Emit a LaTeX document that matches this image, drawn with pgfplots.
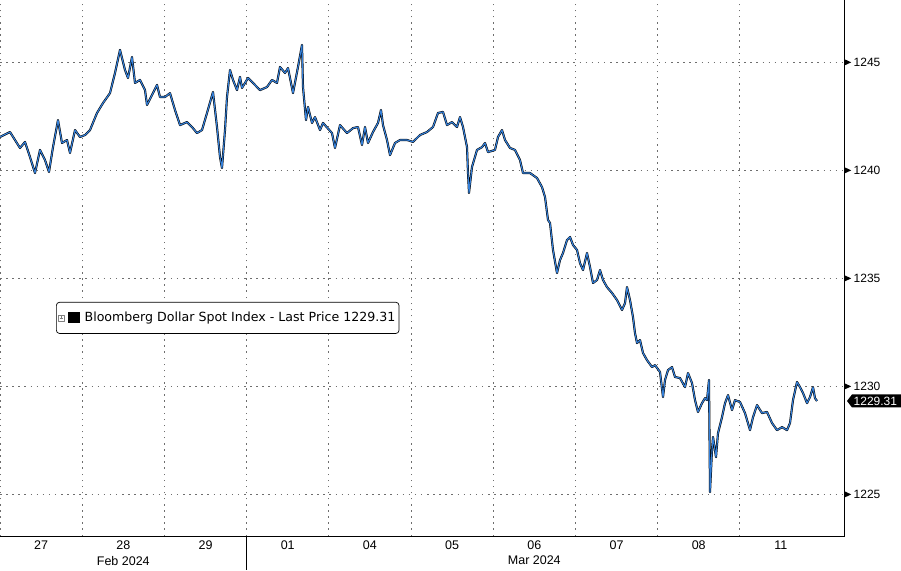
\documentclass[border=0pt]{standalone}
\usepackage{pgfplots}
\usepackage{pgfplotstable}
\pgfplotsset{compat=1.18}
\usepackage{fontspec}
\setmainfont{Liberation Sans}
\newfontfamily\legfont{DejaVu Sans}
\definecolor{bbblue}{RGB}{52,128,218}
\definecolor{gridgray}{RGB}{110,110,110}
\pgfplotstableread{
x y
0 1241.53
10 1241.76
15 1241.39
20 1241.02
25 1241.30
30 1240.60
35 1239.86
40 1240.93
45 1240.46
49 1239.91
53 1241.06
58 1242.31
62 1241.25
67 1241.39
70 1240.79
75 1241.85
80 1241.53
85 1241.62
90 1241.85
97 1242.64
103 1243.10
110 1243.56
115 1244.49
120 1245.56
125 1244.63
128 1244.26
132 1245.23
135 1244.03
140 1244.17
145 1243.70
147 1243.01
152 1243.47
157 1243.94
160 1243.38
165 1243.38
170 1243.56
175 1242.78
180 1242.08
187 1242.22
192 1241.99
197 1241.71
202 1241.85
207 1242.64
213 1243.61
217 1241.99
220 1240.60
222 1240.09
225 1241.85
227 1243.38
230 1244.63
233 1244.17
237 1243.70
240 1244.31
242 1243.80
248 1244.26
253 1244.03
260 1243.70
267 1243.84
272 1244.17
277 1244.03
280 1244.77
285 1244.49
288 1244.72
293 1243.56
298 1244.77
302 1245.79
303 1243.84
306 1242.31
308 1242.92
312 1242.18
315 1242.45
320 1241.85
323 1242.18
332 1241.71
335 1241.02
340 1242.08
347 1241.71
353 1241.94
358 1241.99
362 1241.16
365 1241.99
368 1241.25
373 1241.76
378 1242.18
381 1242.78
383 1242.08
387 1241.39
390 1240.69
395 1241.25
400 1241.39
407 1241.39
413 1241.30
420 1241.62
427 1241.76
433 1241.99
438 1242.64
443 1242.69
447 1242.08
452 1242.22
457 1241.99
460 1242.45
463 1241.99
465 1241.53
467 1241.06
468 1239.86
469 1238.94
472 1240.14
477 1240.93
482 1241.06
485 1241.25
488 1240.83
495 1240.93
498 1241.53
502 1241.85
505 1241.39
510 1241.02
515 1240.93
520 1240.46
523 1239.86
530 1239.86
537 1239.63
542 1239.21
545 1238.75
548 1237.69
550 1237.55
553 1236.30
557 1235.23
560 1235.83
563 1236.16
567 1236.76
570 1236.90
573 1236.53
577 1236.30
580 1235.69
583 1235.37
587 1236.16
590 1235.51
593 1234.77
597 1234.91
600 1235.37
603 1234.91
607 1234.58
612 1234.31
617 1233.98
622 1233.52
625 1233.84
627 1234.58
630 1233.98
633 1233.19
635 1232.45
637 1231.99
640 1232.13
643 1231.53
647 1231.20
652 1230.88
655 1230.97
660 1230.65
663 1229.49
665 1230.28
668 1230.74
672 1230.88
675 1230.42
680 1230.37
685 1229.95
688 1230.60
692 1230.14
695 1229.35
698 1228.80
702 1229.21
705 1229.44
707 1229.35
709 1230.28
710 1225.09
712 1227.04
713 1227.64
716 1226.71
718 1227.82
722 1228.56
725 1229.21
728 1229.58
732 1228.89
735 1229.35
740 1229.26
745 1228.75
750 1227.96
753 1228.56
757 1229.12
762 1228.75
767 1228.80
772 1228.29
777 1227.96
782 1228.10
787 1227.96
790 1228.29
793 1229.35
797 1230.19
800 1229.95
803 1229.68
807 1229.21
810 1229.49
813 1229.95
815 1229.44
817 1229.31
}\dxy
\begin{document}
\begin{tikzpicture}[x=1pt,y=1pt]
\useasboundingbox (0,-34) rectangle (901,536);
\begin{axis}[
  at={(0,0)}, anchor=south west, scale only axis,
  width=844pt, height=536pt,
  xmin=0, xmax=844, ymin=1223.06, ymax=1247.87,
  clip=false,
  axis line style={draw=none},
  xtick={41.1,123.3,205.5,287.7,369.9,452.1,534.3,616.5,698.7,780.9},
  xticklabels={27,28,29,01,04,05,06,07,08,11},
  minor xtick={0,82.2,164.4,246.6,328.8,411,493.2,575.4,657.6,739.8},
  xminorgrids=true,
  ytick={1225,1230,1235,1240,1245},
  ymajorgrids=true,
  major tick length=0pt, minor tick length=0pt,
  tick style={draw=none},
  yticklabel pos=right,
  grid style={gridgray, line width=0.7pt, dash pattern=on 1.5pt off 4.6pt},
  minor grid style={gridgray, line width=0.7pt, dash pattern=on 1.5pt off 4.6pt},
  /pgf/number format/assume math mode=true,
  /pgf/number format/set thousands separator={},
  xticklabel style={anchor=north, inner sep=0pt, yshift=-5pt, font=\fontsize{12.5}{14}\selectfont},
  yticklabel style={anchor=west, inner sep=0pt, xshift=1pt, font=\fontsize{12}{14}\selectfont},
  yticklabel={\tikz[baseline=-0.6ex]\fill[black] (0pt,-2.8pt)--(6pt,0pt)--(0pt,2.8pt)--cycle;\hspace{2.5pt}\pgfmathprintnumber{\tick}},
  legend style={at={(0.0664,0.4366)}, anchor=north west, draw=black, line width=0.7pt,
    rounded corners=3pt, font=\legfont\fontsize{12.6}{14}\selectfont,
    inner xsep=1.5pt, inner ysep=8pt, cells={anchor=west}},
  legend image code/.code={
    \draw[draw=gray, line width=0.45pt, sharp corners, solid] (0pt,-3pt) rectangle (6pt,3pt);
    \draw[draw=gray, line width=0.45pt, sharp corners, solid] (1.4pt,0pt)--(4.6pt,0pt) (3pt,-1.6pt)--(3pt,1.6pt);
    \fill[fill=black, draw=none, sharp corners] (10pt,-5.5pt) rectangle (21.5pt,5.5pt);
    \path[draw=none, fill=none] (0pt,0pt) -- (24.5pt,0pt);
  },
]
\addplot[black, line width=2.1pt, line join=round] table[x=x,y=y] {\dxy};
\addlegendentry{Bloomberg Dollar Spot Index - Last Price 1229.31}
\addplot[bbblue, line width=1.1pt, line join=round, forget plot] table[x=x,y=y] {\dxy};
% axis frame: bottom and right
\draw[black, line width=0.8pt] (axis cs:0,1223.06) -- (axis cs:844,1223.06) -- (axis cs:844,1247.87);
\draw[black, line width=0.8pt] (axis cs:246.6,1223.06) -- ++(0pt,-34pt);
\node[anchor=north, inner sep=0pt, font=\fontsize{12.5}{14}\selectfont] at ([yshift=-20pt]axis cs:123.3,1223.06) {Feb 2024};
\node[anchor=north, inner sep=0pt, font=\fontsize{12.5}{14}\selectfont] at ([yshift=-20pt]axis cs:534.3,1223.06) {Mar 2024};
% last price tag
\fill[black] ([xshift=3pt]axis cs:844,1229.31) -- ++(5pt,6.5pt) -- ++(49pt,0pt) -- ++(0pt,-13pt) -- ++(-49pt,0pt) -- cycle;
\node[anchor=west, inner sep=0pt, text=white, font=\fontsize{12}{14}\selectfont] at ([xshift=9.5pt]axis cs:844,1229.31) {1229.31};
\end{axis}
\end{tikzpicture}
\end{document}
